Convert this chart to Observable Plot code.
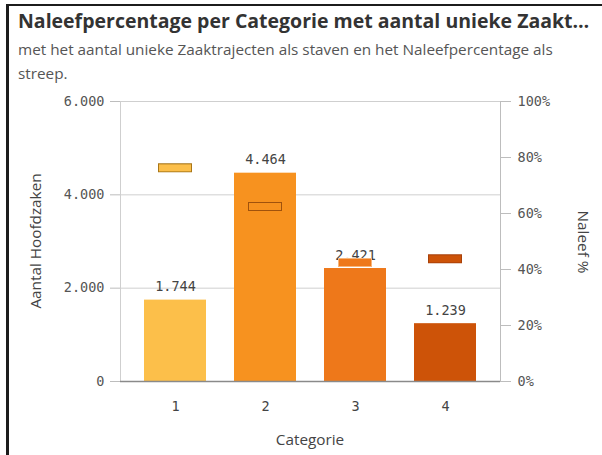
<!DOCTYPE html>
<html><head><meta charset="utf-8">
<script src="https://cdn.jsdelivr.net/npm/d3@7"></script>
<script src="https://cdn.jsdelivr.net/npm/@observablehq/plot@0.6"></script>
<style>
body{margin:0;background:#fff;width:602px;height:455px;overflow:hidden;position:relative;font-family:"Open Sans",sans-serif}
#frame{position:absolute;left:6px;top:4px;width:620px;height:470px;border-left:3px solid #1c1c1c;border-top:2px solid #1c1c1c;pointer-events:none}
#title{position:absolute;left:18px;top:9px;font-size:19.5px;line-height:24px;font-weight:700;color:#333;white-space:nowrap}
#subtitle{position:absolute;left:18px;top:37px;font-size:15.3px;line-height:24px;color:#555;white-space:nowrap}
#chart{position:absolute;left:0;top:85px}
.lab{position:absolute;font-size:15.3px;color:#444;white-space:nowrap}
#ylab{left:35px;top:241px;transform:translate(-50%,-50%) rotate(-90deg)}
#y2lab{left:584px;top:242px;transform:translate(-50%,-50%) rotate(90deg)}
#xlab{left:310px;top:439px;transform:translate(-50%,-50%)}
</style></head>
<body>
<div id="title">Naleefpercentage per Categorie met aantal unieke Zaakt…</div>
<div id="subtitle">met het aantal unieke Zaaktrajecten als staven en het Naleefpercentage als<br>streep.</div>
<div id="chart"></div>
<div class="lab" id="ylab">Aantal Hoofdzaken</div>
<div class="lab" id="y2lab">Naleef %</div>
<div class="lab" id="xlab">Categorie</div>
<div id="frame"></div>
<script>
const categories = ["1", "2", "3", "4"];
const counts = [1744, 4464, 2421, 1239];
const naleefPct = [76.3, 62.5, 42.5, 43.8];
const countTicks = [0, 2000, 4000, 6000];
const pctTicks = [0, 20, 40, 60, 80, 100];
const barColors = ["#fcbf4a", "#f7921f", "#ee781a", "#cd5308"];
const markerStroke = ["#a97617", "#a0520c", "#f7b57a", "#a8410a"];
const maxCount = 6000;

const nl = d3.formatLocale({decimal: ",", thousands: ".", grouping: [3], currency: ["", ""]});
const fmt = nl.format(",");

const data = categories.map((c, i) => ({cat: c, count: counts[i], pctY: naleefPct[i] / 100 * maxCount, color: barColors[i], stroke: markerStroke[i]}));
const mono = "DejaVu Sans Mono, monospace";

const plot = Plot.plot({
  width: 602, height: 370,
  marginTop: 16, marginBottom: 74, marginLeft: 120, marginRight: 102,
  style: {fontFamily: mono, fontSize: "13.5px", color: "#555", background: "transparent"},
  x: {domain: categories, paddingInner: 0.31, paddingOuter: 0.26, label: null},
  y: {domain: [0, maxCount], label: null},
  marks: [
    Plot.gridY(countTicks.filter(d => d > 0), {stroke: "#cfcfcf", strokeOpacity: 1}),
    Plot.axisY({anchor: "left", ticks: countTicks, tickFormat: fmt, tickSize: 10, tickPadding: 6, stroke: "#bdbdbd", fill: "#555", label: null}),
    Plot.axisY({anchor: "right", ticks: pctTicks.map(p => p / 100 * maxCount), tickFormat: d => Math.round(d / maxCount * 100) + "%", tickSize: 10, tickPadding: 7, stroke: "#bdbdbd", fill: "#555", label: null}),
    Plot.frame({anchor: "left", stroke: "#cfcfcf"}),
    Plot.frame({anchor: "right", stroke: "#bdbdbd"}),
    Plot.axisX({tickSize: 0, tickPadding: 20, fill: "#444", label: null}),
    Plot.barY(data, {x: "cat", y: "count", fill: "color"}),
    Plot.ruleY([0], {stroke: "#8a8a8a", strokeWidth: 1.5}),
    Plot.text(data, {x: "cat", y: "count", text: d => fmt(d.count), lineAnchor: "bottom", dy: -9, fill: "#444", fontSize: 13.5}),
    Plot.tickY(data, {x: "cat", y: "pctY", stroke: "stroke", strokeWidth: 9, insetLeft: 14, insetRight: 14}),
    Plot.tickY(data, {x: "cat", y: "pctY", stroke: "color", strokeWidth: 7, insetLeft: 15, insetRight: 15})
  ]
});
document.getElementById("chart").appendChild(plot);
</script>
</body></html>
